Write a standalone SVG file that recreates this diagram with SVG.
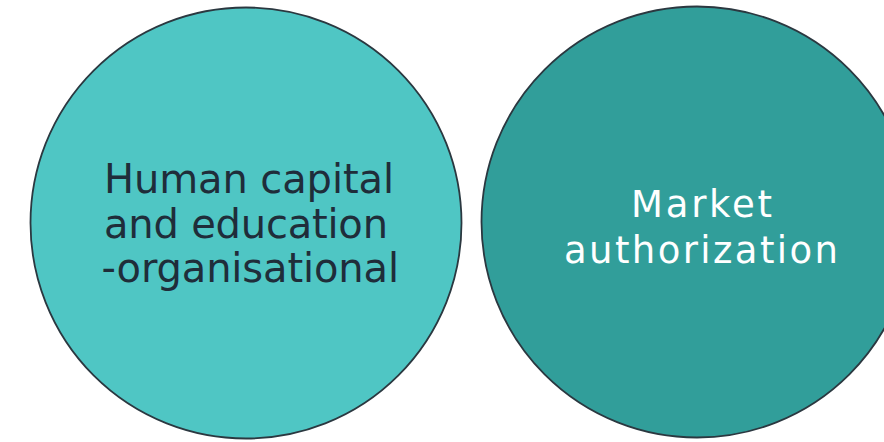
<svg xmlns="http://www.w3.org/2000/svg" width="884" height="442" viewBox="0 0 884 442">
<style>
.c{stroke:#2b3840;stroke-width:1.8}
.t{font-family:"DejaVu Sans","Liberation Sans",Arial,sans-serif}
.dk{fill:#1f2d3a;font-size:40px}
.wt{fill:#ffffff;font-size:37px}
</style>
<rect width="884" height="442" fill="#ffffff"/>
<g id="node-human-capital">
<circle class="c" cx="246" cy="223" r="215.5" fill="#4fc6c4"/>
<text class="t dk" x="104" y="193" textLength="290" lengthAdjust="spacing">Human capital</text>
<text class="t dk" x="104" y="237.5" textLength="284" lengthAdjust="spacing">and education</text>
<text class="t dk" x="101.5" y="281.5" textLength="297.5" lengthAdjust="spacing">-organisational</text>
</g>
<g id="node-market-authorization">
<circle class="c" cx="697" cy="222" r="215.5" fill="#319e9a"/>
<text class="t wt" x="631" y="217" textLength="141" lengthAdjust="spacing">Market</text>
<text class="t wt" x="564" y="263" textLength="274" lengthAdjust="spacing">authorization</text>
</g>
<g id="connectors"></g>
</svg>
